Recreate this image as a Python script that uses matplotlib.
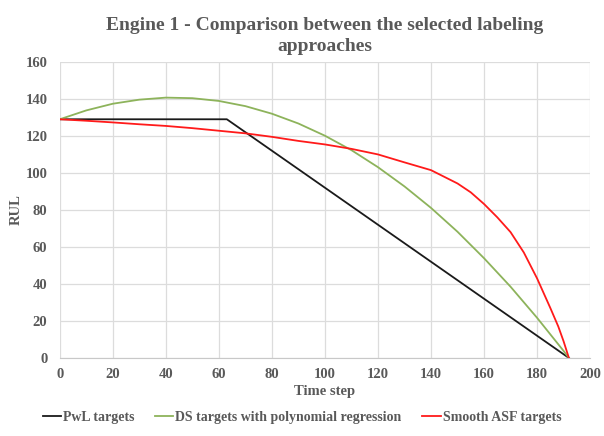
import matplotlib.pyplot as plt

# values
pwl_x = [0, 63, 192]
pwl_y = [129, 129, 0]

ds_x = [0, 10, 20, 30, 40, 50, 60, 70, 80, 90, 100, 110, 120, 130, 140, 150, 160, 170, 180, 190, 192]
ds_y = [129, 133.8, 137.4, 139.6, 140.7, 140.4, 138.9, 136.1, 132.0, 126.7, 120.1, 112.3, 103.1,
        92.7, 81.1, 68.2, 53.9, 38.5, 21.7, 3.8, 0]

asf_x = [0, 10, 20, 30, 40, 50, 60, 70, 80, 90, 100, 110, 120, 130, 140, 150, 155, 160, 165, 170,
         175, 180, 185, 188, 190, 192]
asf_y = [129, 128.2, 127.3, 126.3, 125.4, 124.2, 122.8, 121.4, 119.5, 117.3, 115.4, 113.0, 110.0,
         105.7, 101.5, 94.3, 89.5, 83.2, 76.0, 68.0, 57.0, 43.0, 27.0, 17.0, 9.0, 0]

x_ticks = list(range(0, 201, 20))
y_ticks = list(range(0, 161, 20))

text_color = "#595959"
plt.rcParams["font.family"] = ["Liberation Serif", "DejaVu Serif"]
plt.rcParams["font.weight"] = "bold"

fig = plt.figure(figsize=(6.04, 4.36), dpi=100)
ax = fig.add_axes([0.099, 0.179, 0.878, 0.679])

ax.plot(pwl_x, pwl_y, color="#1a1a1a", lw=1.3, label="PwL targets")
ax.plot(ds_x, ds_y, color="#8db35b", lw=1.3, label="DS targets with polynomial regression")
ax.plot(asf_x, asf_y, color="#ff1a1a", lw=1.3, label="Smooth ASF targets")

ax.set_xlim(0, 200)
ax.set_ylim(0, 160)
ax.set_xticks(x_ticks)
ax.set_yticks(y_ticks)
ax.grid(True, color="#dcdcdc", lw=0.9)
ax.set_axisbelow(True)
for side in ["top", "right", "left"]:
    ax.spines[side].set_visible(False)
ax.spines["bottom"].set_color("#c8c8c8")
ax.tick_params(length=0, labelsize=10.5, colors=text_color)
ax.tick_params(axis="x", pad=7)
ax.tick_params(axis="y", pad=9)
for lbl in ax.get_xticklabels() + ax.get_yticklabels():
    lbl.set_fontweight("bold")

ax.set_xlabel("Time step", fontsize=10.5, fontweight="bold", color=text_color, labelpad=3)
ax.set_ylabel("RUL", fontsize=10.5, fontweight="bold", color=text_color, labelpad=2)
ax.set_title("Engine 1 - Comparison between the selected labeling\napproaches",
             fontsize=14, fontweight="bold", color=text_color, pad=8, linespacing=1.3)

fig.legend(loc="lower center", bbox_to_anchor=(0.5, 0.0), ncol=3, frameon=False,
           handlelength=1.3, handletextpad=0.15, columnspacing=1.5,
           prop={"size": 10, "weight": "bold"}, labelcolor=text_color)

fig.savefig("out.png", dpi=100)
plt.close(fig)
